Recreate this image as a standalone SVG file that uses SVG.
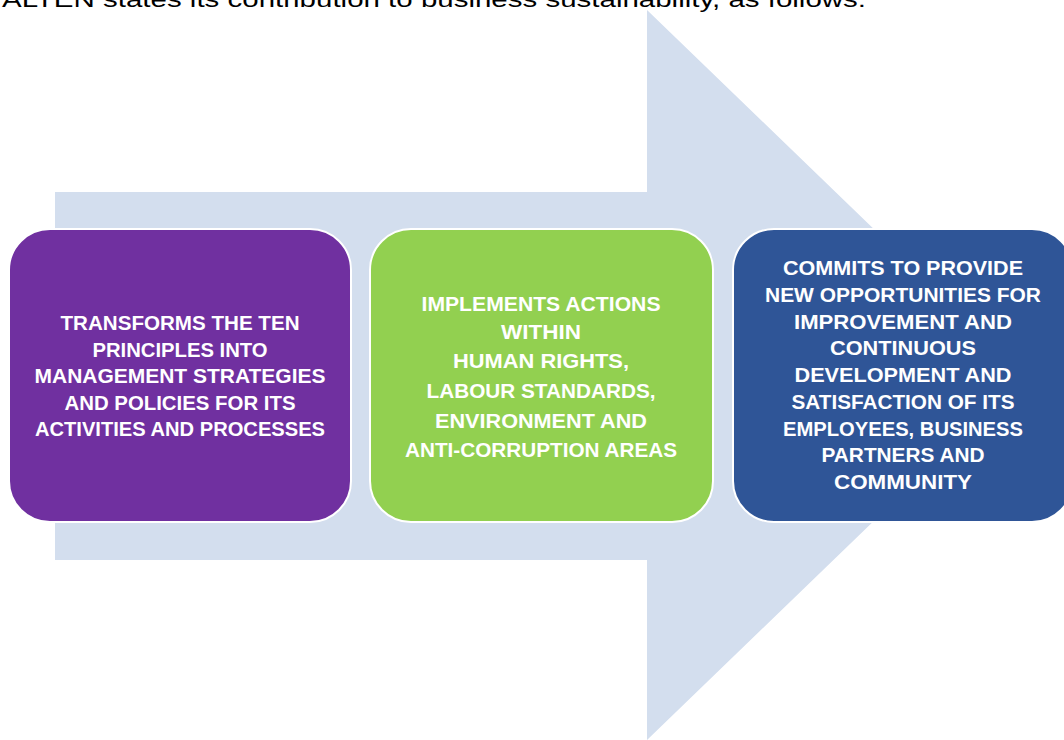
<svg xmlns="http://www.w3.org/2000/svg" width="1064" height="740" viewBox="0 0 1064 740">
  <style>
    .intro { font-family: "Liberation Sans", Arial, sans-serif; font-size: 22px; fill: #000000; }
    .box { stroke: #ffffff; stroke-width: 2; }
    .label { font-family: "Liberation Sans", Arial, sans-serif; font-weight: bold; font-size: 20px; fill: #ffffff; text-anchor: middle; }
  </style>
  <rect width="1064" height="740" fill="#ffffff"/>

  <!-- lead-in sentence, partly above the page edge -->
  <text class="intro" x="2" y="7" textLength="864" lengthAdjust="spacingAndGlyphs">ALTEN states its contribution to business sustainability, as follows:</text>

  <!-- background block arrow -->
  <g id="connectors">
    <polygon points="55,192 647,192 647,10 1025,375 647,740 647,560 55,560" fill="#D3DEEE"/>
  </g>

  <g id="node-transforms">
    <rect class="box" x="9" y="229" width="342" height="293" rx="41" ry="41" fill="#7030A0"/>
    <text class="label" x="180" y="330" textLength="239" lengthAdjust="spacingAndGlyphs">TRANSFORMS THE TEN</text>
    <text class="label" x="180" y="357" textLength="175" lengthAdjust="spacingAndGlyphs">PRINCIPLES INTO</text>
    <text class="label" x="180" y="383" textLength="291" lengthAdjust="spacingAndGlyphs">MANAGEMENT STRATEGIES</text>
    <text class="label" x="180" y="410" textLength="231" lengthAdjust="spacingAndGlyphs">AND POLICIES FOR ITS</text>
    <text class="label" x="180" y="436" textLength="290" lengthAdjust="spacingAndGlyphs">ACTIVITIES AND PROCESSES</text>
  </g>

  <g id="node-implements">
    <rect class="box" x="370" y="229" width="343" height="293" rx="41" ry="41" fill="#92D050"/>
    <text class="label" x="541" y="311" textLength="239" lengthAdjust="spacingAndGlyphs">IMPLEMENTS ACTIONS</text>
    <text class="label" x="541" y="339" textLength="80" lengthAdjust="spacingAndGlyphs">WITHIN</text>
    <text class="label" x="541" y="368" textLength="176" lengthAdjust="spacingAndGlyphs">HUMAN RIGHTS,</text>
    <text class="label" x="541" y="398" textLength="229" lengthAdjust="spacingAndGlyphs">LABOUR STANDARDS,</text>
    <text class="label" x="541" y="428" textLength="212" lengthAdjust="spacingAndGlyphs">ENVIRONMENT AND</text>
    <text class="label" x="541" y="457" textLength="272" lengthAdjust="spacingAndGlyphs">ANTI-CORRUPTION AREAS</text>
  </g>

  <g id="node-commits">
    <rect class="box" x="733" y="229" width="340" height="293" rx="41" ry="41" fill="#2F5597"/>
    <text class="label" x="903" y="275" textLength="240" lengthAdjust="spacingAndGlyphs">COMMITS TO PROVIDE</text>
    <text class="label" x="903" y="302" textLength="276" lengthAdjust="spacingAndGlyphs">NEW OPPORTUNITIES FOR</text>
    <text class="label" x="903" y="329" textLength="218" lengthAdjust="spacingAndGlyphs">IMPROVEMENT AND</text>
    <text class="label" x="903" y="355" textLength="146" lengthAdjust="spacingAndGlyphs">CONTINUOUS</text>
    <text class="label" x="903" y="382" textLength="217" lengthAdjust="spacingAndGlyphs">DEVELOPMENT AND</text>
    <text class="label" x="903" y="409" textLength="223" lengthAdjust="spacingAndGlyphs">SATISFACTION OF ITS</text>
    <text class="label" x="903" y="436" textLength="240" lengthAdjust="spacingAndGlyphs">EMPLOYEES, BUSINESS</text>
    <text class="label" x="903" y="462" textLength="163" lengthAdjust="spacingAndGlyphs">PARTNERS AND</text>
    <text class="label" x="903" y="489" textLength="138" lengthAdjust="spacingAndGlyphs">COMMUNITY</text>
  </g>
</svg>
